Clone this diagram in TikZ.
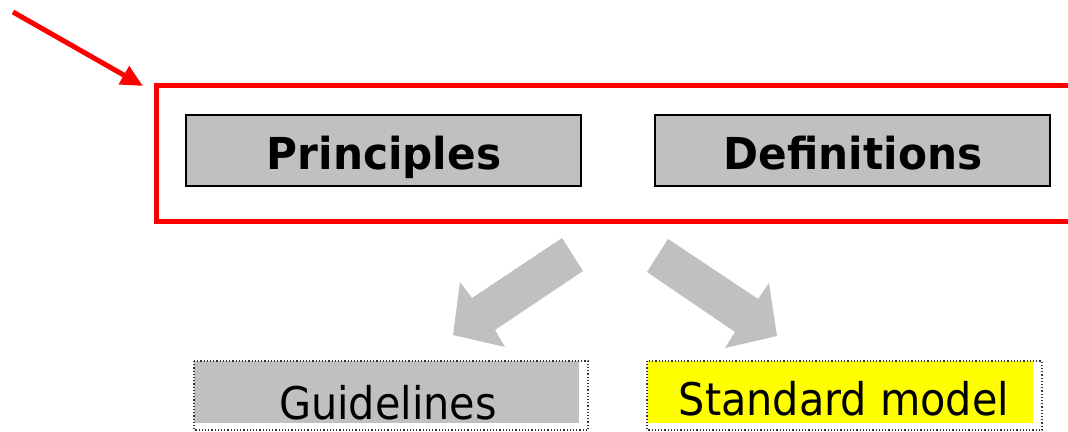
\documentclass[tikz,border=0pt]{standalone}
\usepackage{fontspec}
\setmainfont{DejaVu Sans}
\usetikzlibrary{arrows.meta}
\definecolor{boxgray}{HTML}{C0C0C0}
\definecolor{pured}{HTML}{FF0000}
\definecolor{hlyellow}{HTML}{FFFF00}
\newcommand{\toplabel}[1]{\scalebox{0.96}[1]{\fontsize{44}{50}\selectfont\bfseries #1}}
\newcommand{\botlabel}[1]{\scalebox{0.92}[1]{\fontsize{45}{52}\selectfont #1}}
\tikzset{
  topbox/.style={draw=black, fill=boxgray, line width=1.5pt, minimum width=395pt, minimum height=71pt, inner sep=0pt},
  toptext/.style={anchor=base, inner sep=0pt},
  bottext/.style={anchor=base, inner sep=0pt},
  dotframe/.style={draw=black!80, dotted, line width=1.2pt},
  blockarrow/.style={fill=boxgray, draw=none},
  redframe/.style={draw=pured, line width=5pt},
  redarrow/.style={draw=pured, line width=5pt, -{Triangle[length=22pt,width=20pt]}},
}
\begin{document}
\begin{tikzpicture}[x=1pt,y=-1pt]
\useasboundingbox (0,0) rectangle (1068,431);
% red frame
\draw[redframe] (156,85) rectangle (1080,221);
\coordinate (framecorner) at (143,86);
\coordinate (arrowstart) at (13,12);
\draw[redarrow] (arrowstart) -- (framecorner);
% top boxes
\node[topbox] (prbox) at (383.5,150.5) {};
\node[toptext] (prtext) at (384,169) {\toplabel{Principles}};
\node[topbox] (dfbox) at (852.5,150.5) {};
\node[toptext] (dftext) at (853,169) {\toplabel{Definitions}};
% block arrows
\fill[blockarrow] (562,238) -- (583,271) -- (495,330) -- (505,347) -- (453,335) -- (460,282) -- (472,298) -- cycle;
\fill[blockarrow] (668,239) -- (647,272) -- (735,332) -- (725,348) -- (777,336) -- (769,283) -- (758,299) -- cycle;
% bottom boxes
\fill[boxgray] (194,361) rectangle (579,423);
\draw[dotframe] (194,361) rectangle (588,430);
\node[bottext] (gl) at (388,419) {\botlabel{Guidelines}};
\fill[hlyellow] (647,361) rectangle (1033,423);
\draw[dotframe] (647,361) rectangle (1042,430);
\node[bottext] (sm) at (844,415) {\botlabel{Standard model}};
\end{tikzpicture}
\end{document}
